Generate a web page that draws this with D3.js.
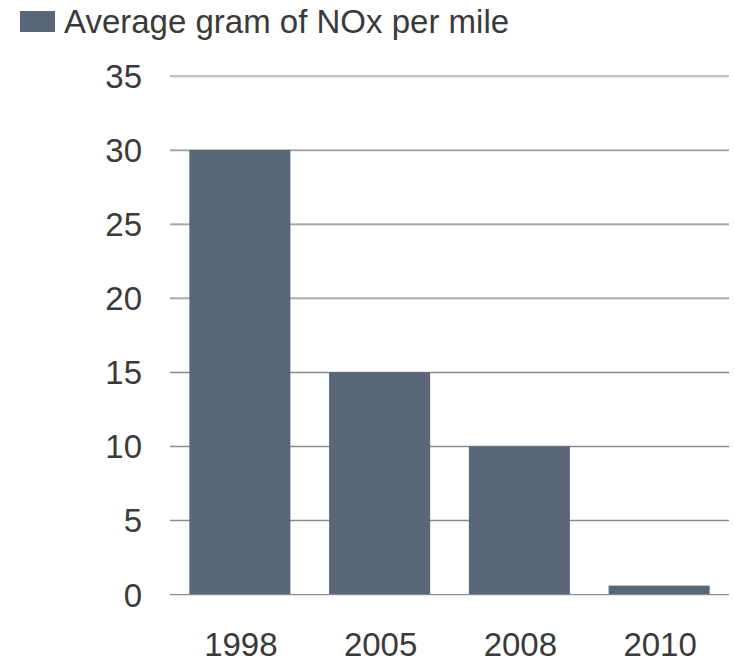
<!DOCTYPE html>
<html>
<head>
<meta charset="utf-8">
<script src="https://cdn.jsdelivr.net/npm/d3@7"></script>
<style>
  body { margin: 0; background: #fff; }
  text { font-family: "Liberation Sans", Arial, sans-serif; fill: #3a3a3a; }
</style>
</head>
<body>
<svg id="chart" width="735" height="662"></svg>
<script>
const years = ['1998', '2005', '2008', '2010']
const noxValues = [30, 15, 10, 0.6]
const yTicks = [0, 5, 10, 15, 20, 25, 30, 35]
const seriesName = 'Average gram of NOx per mile'

const svg = d3.select('#chart')
const barColor = '#596778'

const x = d3.scaleBand()
    .domain(years)
    .range([170, 729])
    .paddingInner(0.277)
    .paddingOuter(0.1385)

const y = d3.scaleLinear()
    .domain([0, 35])
    .range([594.5, 76])

// gridlines
const grid = svg.append('g')
grid.selectAll('line.shadow')
    .data(yTicks)
    .join('line')
    .attr('class', 'shadow')
    .attr('x1', 170).attr('x2', 729)
    .attr('y1', d => y(d) + 1.2).attr('y2', d => y(d) + 1.2)
    .attr('stroke', '#e2e2e2')
    .attr('stroke-width', 1)
grid.selectAll('line.main')
    .data(yTicks)
    .join('line')
    .attr('class', 'main')
    .attr('x1', 170).attr('x2', 729)
    .attr('y1', d => y(d)).attr('y2', d => y(d))
    .attr('stroke', '#8a8a8a')
    .attr('stroke-width', 1.2)

// y axis labels
svg.append('g')
  .selectAll('text')
  .data(yTicks)
  .join('text')
    .attr('x', 142)
    .attr('y', d => y(d) + 12)
    .attr('text-anchor', 'end')
    .attr('font-size', 33)
    .text(d => d)

// bars
svg.append('g')
  .selectAll('rect')
  .data(noxValues)
  .join('rect')
    .attr('x', (d, i) => x(years[i]))
    .attr('y', d => y(d))
    .attr('width', x.bandwidth())
    .attr('height', d => y(0) - y(d) - 0.5)
    .attr('fill', barColor)

// x labels
svg.append('g')
  .selectAll('text')
  .data(years)
  .join('text')
    .attr('x', d => x(d) + x.bandwidth() / 2 + 1)
    .attr('y', 656)
    .attr('text-anchor', 'middle')
    .attr('font-size', 33)
    .text(d => d)

// legend
const legend = svg.append('g')
legend.append('rect')
    .attr('x', 20).attr('y', 11)
    .attr('width', 35).attr('height', 21)
    .attr('fill', barColor)
legend.append('text')
    .attr('x', 64)
    .attr('y', 33)
    .attr('font-size', 33)
    .text(seriesName)
</script>
</body>
</html>
